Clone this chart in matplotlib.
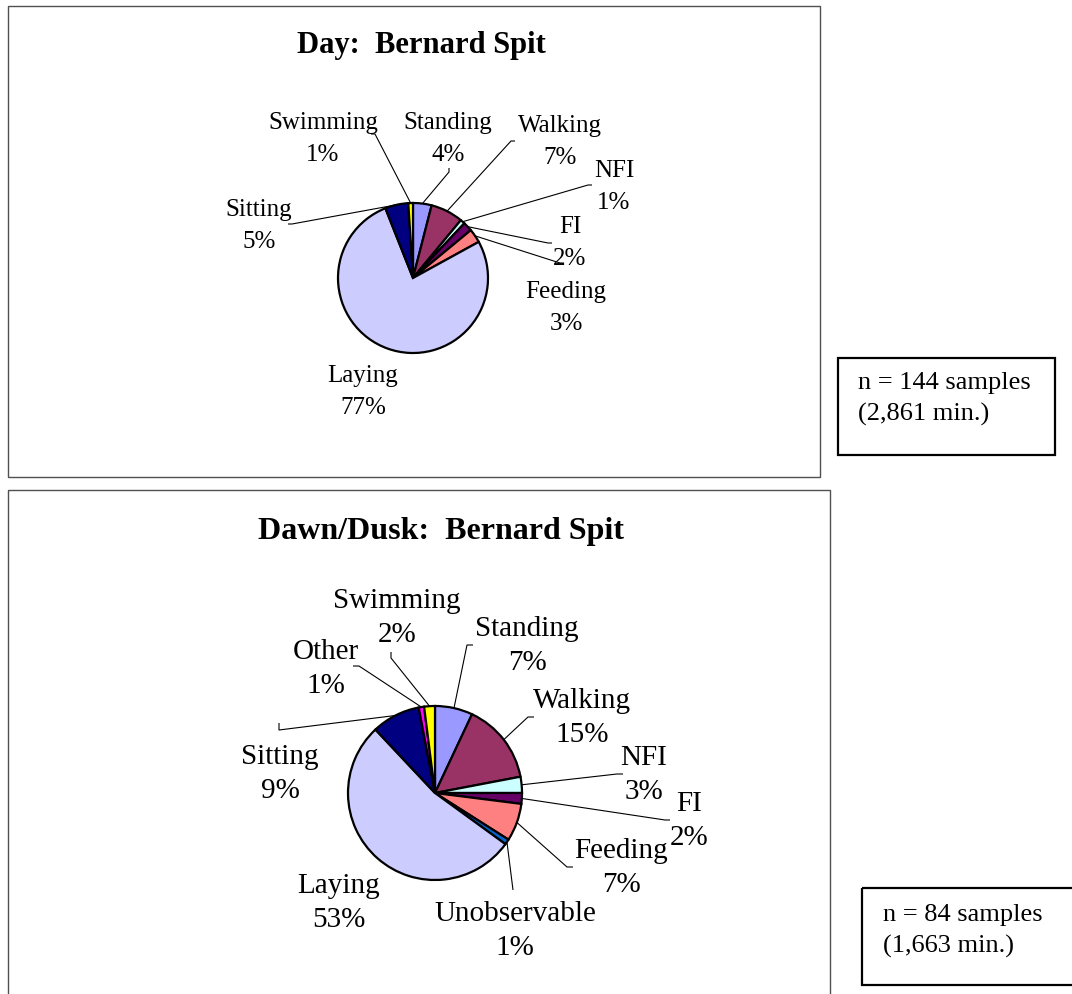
import matplotlib
matplotlib.use("Agg")
import matplotlib.pyplot as plt
from matplotlib.patches import Rectangle
import numpy as np

plt.rcParams['font.family'] = ['Liberation Serif', 'DejaVu Serif']

# ---- Day: Bernard Spit ----
day_title = "Day:  Bernard Spit"
day_labels = ["Standing", "Walking", "NFI", "FI", "Feeding", "Laying", "Sitting", "Swimming"]
day_pct = [4, 7, 1, 2, 3, 77, 5, 1]
day_note = "n = 144 samples\n(2,861 min.)"

# ---- Dawn/Dusk: Bernard Spit ----
dusk_title = "Dawn/Dusk:  Bernard Spit"
dusk_labels = ["Standing", "Walking", "NFI", "FI", "Feeding", "Unobservable",
               "Laying", "Sitting", "Other", "Swimming"]
dusk_pct = [7, 15, 3, 2, 7, 1, 53, 9, 1, 2]
dusk_note = "n = 84 samples\n(1,663 min.)"

colors = {
    "Standing": "#9999FF", "Walking": "#993366", "NFI": "#CCFFFF", "FI": "#660066",
    "Feeding": "#FF8080", "Laying": "#CCCCFF", "Sitting": "#000080",
    "Swimming": "#FFFF00", "Other": "#FF00FF", "Unobservable": "#0066CC",
}

W, H = 1072, 994
fig = plt.figure(figsize=(W / 100, H / 100), dpi=100)
ax = fig.add_axes([0, 0, 1, 1])


def draw_pie(labels, pct, center, radius, fontsize, pitch, layout):
    wedges, _ = ax.pie(pct, colors=[colors[l] for l in labels], center=center,
                       radius=radius, startangle=-90, counterclock=True,
                       wedgeprops=dict(edgecolor="black", linewidth=1.6),
                       frame=True)
    for w, name, p in zip(wedges, labels, pct):
        pos, anchor, tick = layout[name]
        ax.text(pos[0], pos[1], f"{name}\n{p}%", ha="center", va="center",
                fontsize=fontsize, linespacing=pitch, multialignment="center")
        if anchor is None:
            continue
        mid = np.deg2rad((w.theta1 + w.theta2) / 2)
        ex = center[0] + radius * np.cos(mid)
        ey = center[1] + radius * np.sin(mid)
        xs = [anchor[0] + tick[0], anchor[0], ex]
        ys = [anchor[1] + tick[1], anchor[1], ey]
        ax.plot(xs, ys, color="black", linewidth=0.8, solid_capstyle="butt")


# label block centre, leader-line start, small hook at the start
day_layout = {
    "Swimming": ((323, 139), (375, 134), (-4, 0)),
    "Standing": ((448, 139), (449, 172), (0, -4)),
    "Walking": ((560, 142), (511, 141), (4, 0)),
    "NFI": ((614, 187), (588, 185), (4, 0)),
    "FI": ((570, 243), (548, 243), (4, 0)),
    "Feeding": ((566, 308), (560, 263), (4, 0)),
    "Laying": ((363, 392), None, None),
    "Sitting": ((259, 226), (292, 224), (-4, 0)),
}
dusk_layout = {
    "Swimming": ((397, 618), (391, 658), (0, -6)),
    "Other": ((326, 669), (359, 666), (-6, 0)),
    "Standing": ((527, 646), (467, 645), (6, 0)),
    "Walking": ((582, 718), (528, 717), (6, 0)),
    "NFI": ((644, 775), (617, 774), (6, 0)),
    "FI": ((689, 821), (665, 820), (5, 0)),
    "Feeding": ((621, 868), (567, 867), (6, 0)),
    "Unobservable": ((515, 931), (513, 890), (0, 0)),
    "Laying": ((339, 903), None, None),
    "Sitting": ((280, 774), (279, 730), (0, -7)),
}

draw_pie(day_labels, day_pct, (413, 278), 75, 18, 1.6, day_layout)
draw_pie(dusk_labels, dusk_pct, (435, 793), 87, 21, 1.42, dusk_layout)

# chart frames
ax.add_patch(Rectangle((8, 6), 812, 471, fill=False, edgecolor="#505050", linewidth=1.0))
ax.add_patch(Rectangle((8, 490), 822, 520, fill=False, edgecolor="#505050", linewidth=1.0))

# titles
ax.text(421, 45, day_title, ha="center", va="center", fontsize=22, fontweight="bold")
ax.text(441, 531, dusk_title, ha="center", va="center", fontsize=23, fontweight="bold")

# sample-size notes
ax.add_patch(Rectangle((838, 358), 217, 97, fill=False, edgecolor="black", linewidth=1.6))
ax.text(858, 399, day_note, ha="left", va="center", fontsize=19, linespacing=1.45)
ax.add_patch(Rectangle((862, 888), 230, 97, fill=False, edgecolor="black", linewidth=1.6))
ax.text(883, 931, dusk_note, ha="left", va="center", fontsize=19, linespacing=1.45)

ax.set_xlim(0, W)
ax.set_ylim(H, 0)
ax.set_aspect("equal")
ax.axis("off")

fig.savefig("out.png", dpi=100, facecolor="white")
